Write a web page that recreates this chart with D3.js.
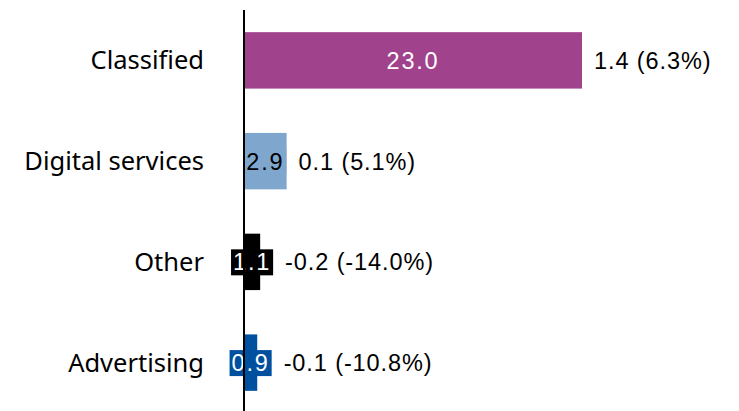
<!DOCTYPE html>
<html>
<head>
<meta charset="utf-8">
<script src="https://cdn.jsdelivr.net/npm/d3@7"></script>
<style>
  html, body { margin: 0; padding: 0; background: #fff; }
  svg { display: block; }
</style>
</head>
<body>
<svg id="chart" width="739" height="411"></svg>
<script>
const categories = ["Classified", "Digital services", "Other", "Advertising"];
const values = [23.0, 2.9, 1.1, 0.9];
const changes = [1.4, 0.1, -0.2, -0.1];
const changePct = [6.3, 5.1, -14.0, -10.8];
const colors = ["#A0428C", "#7FA7CE", "#000000", "#0050A0"];
const innerTextColors = ["#ffffff", "#000000", "#ffffff", "#ffffff"];

const W = 739, H = 411;
const axisX = 244;
const svg = d3.select("#chart");

const x = d3.scaleLinear().domain([0, d3.max(values)]).range([axisX, 582]);
const y = d3.scaleBand().domain(categories).range([10, 413])
  .paddingInner(0.44).paddingOuter(0.22);

const rows = categories.map((c, i) => ({
  cat: c, v: values[i], ch: changes[i], pct: changePct[i],
  color: colors[i], tc: innerTextColors[i]
}));

const numFont = "'Liberation Sans', Arial, sans-serif";
const catFont = "'Noto Sans', sans-serif";

// bars
svg.append("g").selectAll("rect").data(rows).join("rect")
  .attr("x", x(0))
  .attr("y", d => y(d.cat))
  .attr("width", d => x(d.v) - x(0))
  .attr("height", y.bandwidth())
  .attr("fill", d => d.color);

// category axis
const yAxis = d3.axisLeft(y).tickSize(0).tickPadding(40);
const ag = svg.append("g").attr("transform", `translate(${axisX},0)`).call(yAxis);
ag.select(".domain").remove();
ag.selectAll("text")
  .attr("font-family", catFont)
  .attr("font-size", 25.5)
  .attr("fill", "#000")
  .attr("dy", "0.35em");

// inner labels with background boxes
const lg = svg.append("g");
const endXs = [];
rows.forEach((d, i) => {
  const cx = (x(0) + x(d.v)) / 2;
  const cy = y(d.cat) + y.bandwidth() / 2;
  const g = lg.append("g");
  const bg = g.append("rect").attr("fill", d.color);
  const t = g.append("text")
    .attr("x", cx).attr("y", cy).attr("dy", "0.36em")
    .attr("text-anchor", "middle")
    .attr("font-family", numFont)
    .attr("font-size", 23.5)
    .attr("letter-spacing", 1.8)
    .attr("fill", d.tc)
    .text(d3.format(".1f")(d.v));
  const bb = t.node().getBBox();
  const pad = 2;
  bg.attr("x", bb.x - pad).attr("y", bb.y)
    .attr("width", bb.width + 2 * pad).attr("height", bb.height);
  endXs.push(Math.max(x(d.v), bb.x + bb.width + pad));
});

// outer change labels
const fmtCh = v => d3.format(".1f")(v).replace("−", "-");
svg.append("g").selectAll("text").data(rows).join("text")
  .attr("x", (d, i) => endXs[i] + 12)
  .attr("y", d => y(d.cat) + y.bandwidth() / 2)
  .attr("dy", "0.36em")
  .attr("font-family", numFont)
  .attr("font-size", 23.5)
  .attr("letter-spacing", 0.9)
  .attr("fill", "#000")
  .text(d => `${fmtCh(d.ch)} (${fmtCh(d.pct)}%)`);

// vertical axis line
svg.append("line")
  .attr("x1", axisX).attr("x2", axisX)
  .attr("y1", 10).attr("y2", H)
  .attr("stroke", "#000").attr("stroke-width", 2);
</script>
</body>
</html>
